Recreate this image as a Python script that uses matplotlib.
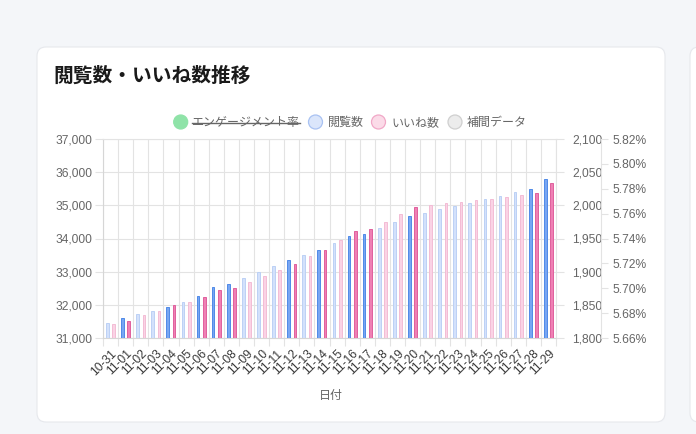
import matplotlib
matplotlib.use('Agg')
import matplotlib.pyplot as plt
from matplotlib.patches import FancyBboxPatch, Circle
from matplotlib.ticker import FixedLocator, FuncFormatter
import numpy as np

plt.rcParams['font.family'] = ['Liberation Sans', 'Noto Sans CJK JP', 'DejaVu Sans']

# ---- data ----
dates = ['10-31', '11-01', '11-02', '11-03', '11-04', '11-05', '11-06', '11-07',
         '11-08', '11-09', '11-10', '11-11', '11-12', '11-13', '11-14', '11-15',
         '11-16', '11-17', '11-18', '11-19', '11-20', '11-21', '11-22', '11-23',
         '11-24', '11-25', '11-26', '11-27', '11-28', '11-29']
views = [31450, 31600, 31720, 31820, 31930, 32100, 32270, 32540, 32630, 32810,
         33000, 33180, 33360, 33510, 33660, 33860, 34090, 34140, 34310, 34490,
         34680, 34780, 34890, 34990, 35080, 35190, 35290, 35400, 35500, 35800]
likes = [1821, 1826, 1834, 1841, 1849, 1855, 1862, 1873, 1875, 1884,
         1894, 1903, 1912, 1923, 1933, 1947, 1961, 1965, 1975, 1987,
         1998, 2000, 2004, 2005, 2008, 2010, 2012, 2015, 2018, 2033]
# True = actual data, False = interpolated
is_actual = [False, True, False, False, True, False, True, True, True, False,
             False, False, True, False, True, False, True, True, False, False,
             True, False, False, False, False, False, False, False, True, True]
view_ticks = [31000, 32000, 33000, 34000, 35000, 36000, 37000]
like_ticks = [1800, 1850, 1900, 1950, 2000, 2050, 2100]
rate_ticks = [5.66, 5.68, 5.70, 5.72, 5.74, 5.76, 5.78, 5.80, 5.82]
legend_labels = ['エンゲージメント率', '閲覧数', 'いいね数', '補間データ']
title = '閲覧数・いいね数推移'
x_title = '日付'

W, H = 696, 434
fig = plt.figure(figsize=(W / 100, H / 100), dpi=100)
fig.patch.set_facecolor('#f4f6f9')

# background / card layer in pixel coords
bg = fig.add_axes([0, 0, 1, 1])
bg.set_xlim(0, W)
bg.set_ylim(H, 0)
bg.axis('off')
bg.set_zorder(0)
bg.add_patch(FancyBboxPatch((37, 47), 628, 375, boxstyle='round,pad=0,rounding_size=9',
                            fc='white', ec='#e6e8ec', lw=0.8))
bg.add_patch(FancyBboxPatch((690, 47), 60, 375, boxstyle='round,pad=0,rounding_size=9',
                            fc='white', ec='#e6e8ec', lw=0.8, clip_on=False))
bg.text(53, 76, title, fontsize=14.2, fontweight='bold', color='#1a1a1a',
        ha='left', va='center', family=['Noto Sans CJK JP'])

# legend (rate series hidden -> struck through)
leg_items = [
    (180.7, '#8fe3a8', '#8fe3a8', 192, legend_labels[0], True),
    (315.5, '#dbe6fb', '#a9c2f2', 328, legend_labels[1], False),
    (378.5, '#fbdbe8', '#f1a8c7', 391, legend_labels[2], False),
    (455.0, '#ececec', '#cfcfcf', 467, legend_labels[3], False),
]
for cx, fc, ec, tx, lab, struck in leg_items:
    bg.add_patch(Circle((cx, 122), 7, fc=fc, ec=ec, lw=0.9))
    t = bg.text(tx, 122.5, lab, fontsize=8.64, color='#666666', ha='left', va='center',
                family=['Noto Sans CJK JP'])
    if struck:
        bg.plot([tx, 300], [122.5, 122.5], color='#666666', lw=1.0)

bg.text(331, 395, x_title, fontsize=8.64, color='#666666', ha='center', va='center',
        family=['Noto Sans CJK JP'])

# ---- chart axes ----
left, right, top, bottom = 103, 556, 139, 338
ax = fig.add_axes([left / W, (H - bottom) / H, (right - left) / W, (bottom - top) / H])
ax.set_zorder(1)
ax.patch.set_alpha(0)

x = np.arange(len(dates))
off, bw = 0.21, 0.18
v_fc = ['#78a6f2' if a else '#d3e1fb' for a in is_actual]
v_ec = ['#4f8ae8' if a else '#bcd1f5' for a in is_actual]
l_fc = ['#ef80b4' if a else '#fad3e5' for a in is_actual]
l_ec = ['#e0609d' if a else '#f3bcd5' for a in is_actual]

grid_c = '#e3e3e3'
ax.bar(x - off, views, width=bw, color=v_fc, edgecolor=v_ec, linewidth=0.7, zorder=3)
ax.set_xlim(-0.5, len(dates) - 0.5)
ax.set_ylim(view_ticks[0], view_ticks[-1])
ax.yaxis.set_major_locator(FixedLocator(view_ticks))
ax.yaxis.set_major_formatter(FuncFormatter(lambda v, p: f'{v:,.0f}'))
ax.set_xticks(x)
ax.set_xticklabels(dates)
ax.xaxis.set_minor_locator(FixedLocator(np.arange(-0.5, len(dates), 1.0)))
ax.grid(axis='y', which='major', color=grid_c, lw=0.8, zorder=0)
ax.grid(axis='x', which='minor', color=grid_c, lw=0.8, zorder=0)
ax.set_axisbelow(True)
ax.tick_params(axis='y', length=5.8, width=0.8, color=grid_c, pad=1.5,
               labelsize=8.64, labelcolor='#666666')
ax.tick_params(axis='x', which='major', length=0, pad=7, labelsize=8.64, labelcolor='#3a3a3a')
ax.tick_params(axis='x', which='minor', length=5.8, width=0.8, color=grid_c)
plt.setp(ax.get_xticklabels(), rotation=45, ha='right', rotation_mode='anchor')
for s in ax.spines.values():
    s.set_color('#d6d6d6')
    s.set_linewidth(0.8)
ax.spines['top'].set_color(grid_c)
ax.spines['right'].set_color(grid_c)

ax2 = ax.twinx()
ax2.bar(x + off, likes, width=bw, color=l_fc, edgecolor=l_ec, linewidth=0.7, zorder=3)
ax2.set_ylim(like_ticks[0], like_ticks[-1])
ax2.yaxis.set_major_locator(FixedLocator(like_ticks))
ax2.yaxis.set_major_formatter(FuncFormatter(lambda v, p: f'{v:,.0f}'))
ax2.tick_params(axis='y', length=5.8, width=0.8, color=grid_c, pad=6,
                labelsize=8.64, labelcolor='#666666')
for s in ax2.spines.values():
    s.set_visible(False)

ax3 = ax.twinx()
ax3.spines['right'].set_position(('outward', 32.4))
ax3.set_ylim(rate_ticks[0], rate_ticks[-1])
ax3.yaxis.set_major_locator(FixedLocator(rate_ticks))
ax3.yaxis.set_major_formatter(FuncFormatter(lambda v, p: f'{v:.2f}%'))
ax3.tick_params(axis='y', length=5, width=0.8, color=grid_c, pad=3,
                labelsize=8.64, labelcolor='#666666')
for k, s in ax3.spines.items():
    s.set_visible(k == 'right')
ax3.spines['right'].set_color(grid_c)
ax3.spines['right'].set_linewidth(0.8)

fig.savefig('out.png', dpi=100, facecolor=fig.get_facecolor())
